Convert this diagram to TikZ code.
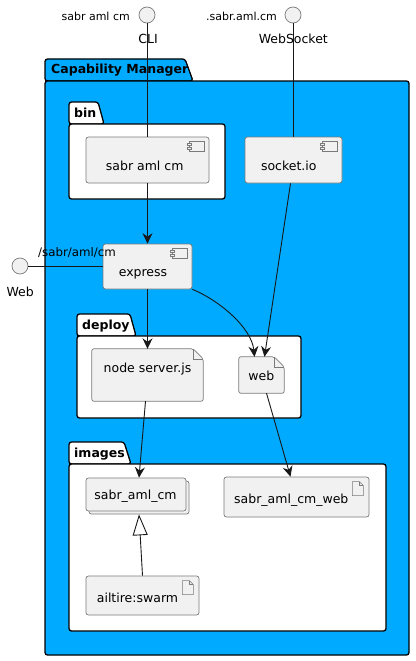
\documentclass[tikz,border=0pt]{standalone}
\usepackage{fontspec}
\setmainfont{DejaVu Sans}
\usetikzlibrary{arrows.meta,calc,shadows}
\definecolor{pkgblue}{HTML}{00AAFF}
\definecolor{boxfill}{HTML}{F1F1F1}
\definecolor{boxline}{HTML}{7A7A7A}
\definecolor{linecol}{HTML}{181818}
\newcommand\mycompicon[1]{%
  \draw[iconline, fill=boxfill] ($(#1.north east)+(-20,5)$) rectangle ($(#1.north east)+(-5,15)$);
  \draw[iconline, fill=boxfill] ($(#1.north east)+(-22,7)$) rectangle ($(#1.north east)+(-18,9)$);
  \draw[iconline, fill=boxfill] ($(#1.north east)+(-22,11)$) rectangle ($(#1.north east)+(-18,13)$);}
\newcommand\myarticon[1]{%
  \draw[iconline, fill=boxfill, line join=round] ($(#1.north east)+(-17,5)$) -- ++(7,0) -- ++(4,4) -- ++(0,10) -- ++(-11,0) -- cycle;
  \draw[iconline, line join=round] ($(#1.north east)+(-10,5)$) -- ++(0,4) -- ++(4,0);}
\newcommand\myfileshape[2]{%
  \draw[boxline, line width=0.7pt, fill=boxfill, rounded corners=2pt] (#1.north west) -- ($(#1.north east)+(-#2,0)$) -- ($(#1.north east)+(0,#2)$) -- (#1.south east) -- (#1.south west) -- cycle;
  \draw[boxline, line width=0.6pt] ($(#1.north east)+(-#2,0)$) -- ($(#1.north east)+(-#2,#2)$) -- ($(#1.north east)+(0,#2)$);}
\begin{document}
\begin{tikzpicture}[x=1pt,y=-1pt,
  txt/.style={font=\fontsize{12.5}{15}\selectfont, inner sep=0pt, anchor=base},
  smalltxt/.style={font=\fontsize{11}{13}\selectfont, inner sep=0pt},
  pkgtitle/.style={font=\bfseries\fontsize{12.5}{15}\selectfont, inner sep=0pt, anchor=base west},
  pkgline/.style={draw=black, line width=1.3pt, rounded corners=2.5pt},
  boxframe/.style={rectangle, draw=boxline, fill=boxfill, line width=0.7pt, rounded corners=2.5pt, inner sep=0pt},
  fileframe/.style={rectangle, draw=none, inner sep=0pt},
  iface/.style={circle, draw=boxline, fill=boxfill, line width=0.7pt, minimum size=16pt, inner sep=0pt},
  iconline/.style={draw=boxline, line width=0.6pt},
  conn/.style={draw=linecol, line width=0.9pt},
  arr/.style={conn, -{Stealth[length=10.5pt,width=10pt,inset=3.5pt]}},
]
\useasboundingbox (0,0) rectangle (415,661);
% packages
\path[pkgline, fill=pkgblue] (45,81) -- (45,59) -- (185,59) -- (193,81) -- cycle;
\path[pkgline, fill=pkgblue] (45,81) rectangle (409,655);
\node[pkgtitle] (tcm) at (51,74) {Capability Manager};
\path[pkgline, fill=white] (69,124) -- (69,102) -- (98,102) -- (104,124) -- cycle;
\path[pkgline, fill=white] (69,124) rectangle (225,199);
\node[pkgtitle] (tbin) at (74,117) {bin};
\path[pkgline, fill=white] (77,336) -- (77,314) -- (130,314) -- (136,336) -- cycle;
\path[pkgline, fill=white] (77,336) rectangle (301,418);
\node[pkgtitle] (tdeploy) at (82,329) {deploy};
\path[pkgline, fill=white] (69,464) -- (69,442) -- (124,442) -- (131,464) -- cycle;
\path[pkgline, fill=white] (69,464) rectangle (386,631);
\node[pkgtitle] (timages) at (74,457) {images};
% interfaces
\node[iface] (cli) at (147,15) {};
\node[smalltxt, anchor=base east] (clilbl) at (130,21) {sabr aml cm};
\node[txt] (cliname) at (148,44) {CLI};
\node[iface] (ws) at (293,15) {};
\node[smalltxt, anchor=base east] (wslbl) at (277,21) {.sabr.aml.cm};
\node[txt] (wsname) at (293.3,44) {WebSocket};
\node[iface] (webif) at (20,266) {};
\node[txt] (webifname) at (20.2,296) {Web};
% components
\node[boxframe, minimum width=123pt, minimum height=46pt] (bincm) at (147.5,160) {};
\mycompicon{bincm}
\node[txt] (bincmtxt) at (144.7,170) {sabr aml cm};
\node[boxframe, minimum width=97pt, minimum height=46pt] (sock) at (293.5,160) {};
\mycompicon{sock}
\node[txt] (socktxt) at (288.8,170) {socket.io};
\node[boxframe, minimum width=89pt, minimum height=45pt] (express) at (147.5,266.5) {};
\mycompicon{express}
\node[txt] (expresstxt) at (143,276) {express};
\node[smalltxt, font=\fontsize{11.8}{14}\selectfont, anchor=base west] (weblbl) at (38,256) {/sabr/aml/cm};
% files
\node[fileframe, minimum width=111pt, minimum height=52pt] (nsrv) at (147.5,375) {};
\myfileshape{nsrv}{10}
\node[txt] (nsrvtxt) at (147.5,372) {node server.js};
\node[fileframe, minimum width=45pt, minimum height=36pt] (web) at (261.5,375) {};
\myfileshape{web}{10}
\node[txt] (webtxt) at (261.3,380) {web};
% images
\node[boxframe, minimum width=100pt, minimum height=33pt, copy shadow={shadow xshift=3pt, shadow yshift=-3pt}] (cm) at (136,494.5) {};
\node[txt] (cmtxt) at (135.5,499) {sabr\_aml\_cm};
\node[boxframe, minimum width=145pt, minimum height=40pt] (cmweb) at (296.5,497) {};
\myarticon{cmweb}
\node[txt] (cmwebtxt) at (291.3,503) {sabr\_aml\_cm\_web};
\node[boxframe, minimum width=113pt, minimum height=39pt] (ailtire) at (142.5,595.5) {};
\myarticon{ailtire}
\node[txt] (ailtiretxt) at (137.5,602) {ailtire:swarm};
% connectors
\draw[conn] (cli.south) -- (cli.south |- bincm.north);
\draw[conn] (ws.south) -- (ws.south |- sock.north);
\draw[conn] (webif.east) -- (webif.east -| express.west);
\draw[arr] (bincm.south) -- (express.north);
\draw[arr] (express.south) -- (nsrv.north);
\draw[arr] (express.south east) .. controls ($(express.south east)+(25,10)$) and ($(web.north)+(-10,-30)$) .. ($(web.north)+(-7,0)$);
\draw[arr] ($(sock.south)+(-3,0)$) -- ($(web.north)+(3,0)$);
\draw[arr] ($(nsrv.south)+(-2,0)$) -- ($(cm.north)+(3,0)$);
\draw[arr] ($(web.south)+(5,0)$) -- ($(cmweb.north)+(-6,0)$);
\draw[conn, -{Triangle[length=21pt,width=15pt,fill=white]}] (ailtire.north) -- ($(cm.south)+(3,3)$);
\end{tikzpicture}
\end{document}
